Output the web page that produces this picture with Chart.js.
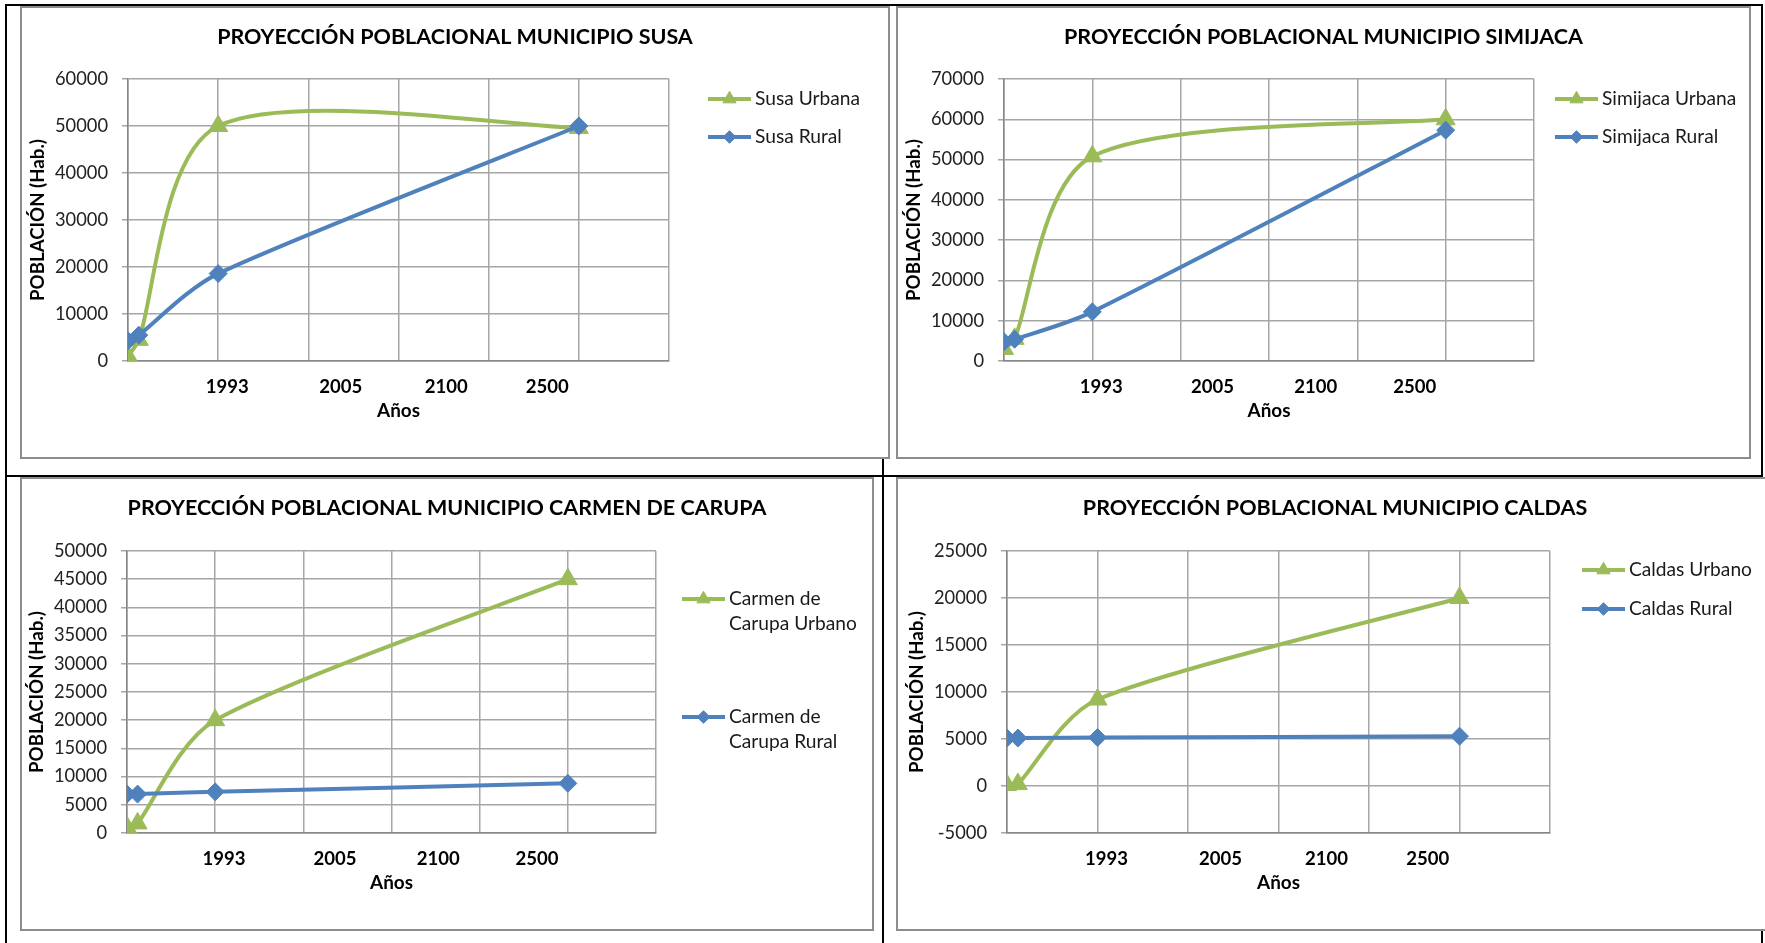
<!DOCTYPE html>
<html>
<head>
<meta charset="utf-8">
<script src="https://cdn.jsdelivr.net/npm/chart.js@4.4.1/dist/chart.umd.min.js"></script>
<style>
  html, body { margin: 0; padding: 0; background: #fff; }
  body { width: 1765px; height: 943px; position: relative; overflow: hidden; }
  .rule { position: absolute; background: #000; }
  .box { position: absolute; background: #fff; }
  .box canvas { position: absolute; left: 0; top: 0; }
  .frame { position: absolute; left: 0; top: 0; right: 0; bottom: 0; border: 2px solid #8c8c8c; pointer-events: none; }
</style>
</head>
<body>
<div class="rule" style="left:5px;top:4px;width:1758px;height:2px"></div>
<div class="rule" style="left:5px;top:4px;width:2px;height:939px"></div>
<div class="rule" style="left:1761px;top:4px;width:2px;height:939px"></div>
<div class="rule" style="left:5px;top:475px;width:1758px;height:2px"></div>
<div class="rule" style="left:882px;top:4px;width:2px;height:939px"></div>

<script>
// ── Data ──────────────────────────────────────────────────
// x position of each point, in grid columns (axis runs 0..6)
const xPositions = [0, 0.12, 1, 5];
const yearLabels = ["1993", "2005", "2100", "2500"];
const yearLabelPositions = [1.1, 2.36, 3.53, 4.65];

const susaUrbana = [1000, 4500, 50000, 49600];
const susaRural = [4300, 5500, 18600, 50000];
const simijacaUrbana = [3000, 5500, 50800, 60000];
const simijacaRural = [4800, 5400, 12200, 57300];
const carmenUrbano = [1000, 1700, 20000, 45000];
const carmenRural = [6900, 6900, 7300, 8800];
const caldasUrbano = [100, 200, 9200, 20000];
const caldasRural = [5100, 5100, 5150, 5300];

// ── Style ─────────────────────────────────────────────────
const GREEN = "#9BBB59";
const BLUE = "#4F81BD";
const GRID = "#a6a6a6";
const AXIS = "#868686";
const FONT = "Lato, 'Open Sans', sans-serif";
const X_AXIS_H = 80;

// the original uses Calibri; size Lato so the text keeps the same width
const measureCtx = document.createElement("canvas").getContext("2d");
function fitSize(text, weight, target) {
  measureCtx.font = `${weight} 100px ${FONT}`;
  return (100 * target) / measureCtx.measureText(text).width;
}
const TITLE_SIZE = fitSize("PROYECCIÓN POBLACIONAL MUNICIPIO SUSA", "bold", 476);
const Y_TITLE_SIZE = fitSize("POBLACIÓN (Hab.)", "bold", 162);
const X_TITLE_SIZE = fitSize("Años", "bold", 43);
const YEAR_SIZE = fitSize("1993", "bold", 43);
const TICK_SIZE = fitSize("60000", "normal", 53);
const LEGEND_SIZE = fitSize("Susa Urbana", "normal", 105);

// Excel-like smoothing: Catmull-Rom (1/6 of neighbour chord), shortened
// next to very short segments so the curve doesn't loop.
const excelSmooth = {
  id: "excelSmooth",
  beforeDatasetDraw(chart, args) {
    const pts = args.meta.data;
    const n = pts.length;
    for (let i = 0; i < n; i++) {
      const p = pts[i];
      const a = pts[Math.max(i - 1, 0)];
      const b = pts[Math.min(i + 1, n - 1)];
      const d0 = Math.hypot(p.x - a.x, p.y - a.y);
      const d1 = Math.hypot(b.x - p.x, b.y - p.y);
      const sum = d0 + d1 || 1;
      const fa = Math.min(1 / 6, d0 / sum / 3);
      const fb = Math.min(1 / 6, d1 / sum / 3);
      p.cp1x = p.x - fa * (b.x - a.x);
      p.cp1y = p.y - fa * (b.y - a.y);
      p.cp2x = p.x + fb * (b.x - a.x);
      p.cp2y = p.y + fb * (b.y - a.y);
    }
    args.meta.dataset._pointsUpdated = true;
  },
};

// Legend drawn the Excel way: line segment with the marker in the middle
const xlLegend = {
  id: "xlLegend",
  afterDraw(chart, args, o) {
    const { ctx } = chart;
    ctx.save();
    ctx.font = `${o.size}px ${FONT}`;
    ctx.textBaseline = "middle";
    chart.data.datasets.forEach((ds, i) => {
      const y = o.rows[i];
      ctx.strokeStyle = ds.borderColor;
      ctx.fillStyle = ds.borderColor;
      ctx.lineWidth = 4;
      ctx.beginPath();
      ctx.moveTo(o.x, y);
      ctx.lineTo(o.x + 43, y);
      ctx.stroke();
      ctx.lineWidth = 1;
      Chart.helpers.drawPoint(
        ctx,
        { pointStyle: ds.pointStyle, radius: ds.pointRadius * 0.7, borderWidth: 1 },
        o.x + 21.5,
        y,
      );
      // simple word wrap
      const lines = [];
      let cur = "";
      ds.label.split(" ").forEach((w) => {
        const t = cur ? cur + " " + w : w;
        if (cur && ctx.measureText(t).width > o.maxWidth) {
          lines.push(cur);
          cur = w;
        } else cur = t;
      });
      lines.push(cur);
      ctx.fillStyle = "#1a1a1a";
      lines.forEach((t, k) => ctx.fillText(t, o.x + 47, y + k * 25));
    });
    ctx.restore();
  },
};

function makeChart(c) {
  const [bx, by, W, H] = c.box;
  const box = document.createElement("div");
  box.className = "box";
  Object.assign(box.style, { left: bx + "px", top: by + "px", width: W + "px", height: H + "px" });
  const canvas = document.createElement("canvas");
  canvas.width = W;
  canvas.height = H;
  box.appendChild(canvas);
  const frame = document.createElement("div");
  frame.className = "frame";
  box.appendChild(frame);
  document.body.appendChild(box);

  const L = c.plot[0] - bx, T = c.plot[1] - by, R = c.plot[2] - bx, B = c.plot[3] - by;
  const titleCy = c.titleY - by;
  const yTitleCx = c.plot[0] - 90 - bx;
  const titleLH = TITLE_SIZE * 1.2;
  const font = (size, weight) => ({ family: FONT, size, weight, lineHeight: 1.2 });

  const xTicks = [0, 1, 2, 3, 4, 5, 6, ...yearLabelPositions].sort((a, b) => a - b);

  new Chart(canvas, {
    type: "line",
    data: {
      datasets: [
        {
          label: c.names[0],
          data: xPositions.map((x, i) => ({ x, y: c.urban[i] })),
          borderColor: GREEN,
          backgroundColor: GREEN,
          pointStyle: "triangle",
          pointRadius: 11,
          order: 1,
        },
        {
          label: c.names[1],
          data: xPositions.map((x, i) => ({ x, y: c.rural[i] })),
          borderColor: BLUE,
          backgroundColor: BLUE,
          pointStyle: "rectRot",
          pointRadius: 9,
          order: 0,
        },
      ],
    },
    options: {
      responsive: false,
      animation: false,
      events: [],
      layout: { padding: { left: 0, top: 0, right: 0, bottom: H - B - X_AXIS_H } },
      elements: {
        line: { borderWidth: 4, tension: 0.3, fill: false },
        point: { borderWidth: 1 },
      },
      plugins: {
        legend: { display: false },
        tooltip: { enabled: false },
        title: {
          display: true,
          text: c.title,
          color: "#000",
          font: font(TITLE_SIZE, "bold"),
          padding: { top: titleCy - titleLH / 2, bottom: T - titleCy - titleLH / 2 },
        },
        xlLegend: {
          x: c.legend.x - bx,
          rows: c.legend.rows.map((r) => r - by),
          size: LEGEND_SIZE,
          maxWidth: c.legend.maxWidth || 1e9,
        },
      },
      scales: {
        x: {
          type: "linear",
          min: 0,
          max: 6,
          afterBuildTicks: (s) => {
            s.ticks = xTicks.map((v) => ({ value: v }));
          },
          afterFit: (s) => {
            s.height = X_AXIS_H;
          },
          grid: {
            color: (ctx) => (ctx.tick && Number.isInteger(ctx.tick.value) ? GRID : "rgba(0,0,0,0)"),
            lineWidth: 1.5,
            drawTicks: false,
          },
          border: { color: AXIS, width: 1.5 },
          ticks: {
            autoSkip: false,
            maxRotation: 0,
            padding: 26 - YEAR_SIZE * 0.6,
            color: "#000",
            font: font(YEAR_SIZE, "bold"),
            callback: (v) => {
              const k = yearLabelPositions.indexOf(v);
              return k < 0 ? "" : yearLabels[k];
            },
          },
          title: {
            display: true,
            text: "Años",
            color: "#000",
            font: font(X_TITLE_SIZE, "bold"),
            padding: { top: 0, bottom: 30 - X_TITLE_SIZE * 0.6 },
          },
        },
        y: {
          min: c.yMin,
          max: c.yMax,
          afterFit: (s) => {
            s.width = L;
          },
          grid: { color: GRID, lineWidth: 1.5, tickLength: 6 },
          border: { color: AXIS, width: 1.5 },
          ticks: {
            stepSize: c.yStep,
            padding: 14,
            color: "#222",
            font: font(TICK_SIZE, "normal"),
            callback: (v) => String(v),
          },
          title: {
            display: true,
            text: "POBLACIÓN (Hab.)",
            color: "#000",
            font: font(Y_TITLE_SIZE, "bold"),
            padding: { top: yTitleCx - Y_TITLE_SIZE * 0.6, bottom: 0 },
          },
        },
        // empty right-hand band that holds the legend, so the title centres on the whole box
        legendBand: {
          type: "linear",
          position: "right",
          grid: { display: false },
          border: { display: false },
          ticks: { display: false },
          afterFit: (s) => {
            s.width = W - R;
          },
        },
      },
    },
    plugins: [excelSmooth, xlLegend],
  });
}

makeChart({
  title: "PROYECCIÓN POBLACIONAL MUNICIPIO SUSA",
  names: ["Susa Urbana", "Susa Rural"],
  urban: susaUrbana,
  rural: susaRural,
  yMin: 0, yMax: 60000, yStep: 10000,
  box: [20, 6, 870, 453],
  plot: [128, 79, 669, 361],
  titleY: 37,
  legend: { x: 708, rows: [99, 137] },
});

makeChart({
  title: "PROYECCIÓN POBLACIONAL MUNICIPIO SIMIJACA",
  names: ["Simijaca Urbana", "Simijaca Rural"],
  urban: simijacaUrbana,
  rural: simijacaRural,
  yMin: 0, yMax: 70000, yStep: 10000,
  box: [896, 6, 855, 453],
  plot: [1004, 79, 1534, 361],
  titleY: 37,
  legend: { x: 1555, rows: [99, 137] },
});

makeChart({
  title: "PROYECCIÓN POBLACIONAL MUNICIPIO CARMEN DE CARUPA",
  names: ["Carmen de Carupa Urbano", "Carmen de Carupa Rural"],
  urban: carmenUrbano,
  rural: carmenRural,
  yMin: 0, yMax: 50000, yStep: 5000,
  box: [20, 477, 854, 454],
  plot: [127, 551, 656, 833],
  titleY: 508,
  legend: { x: 682, rows: [599, 717], maxWidth: 140 },
});

makeChart({
  title: "PROYECCIÓN POBLACIONAL MUNICIPIO CALDAS",
  names: ["Caldas Urbano", "Caldas Rural"],
  urban: caldasUrbano,
  rural: caldasRural,
  yMin: -5000, yMax: 25000, yStep: 5000,
  box: [896, 477, 878, 454],
  plot: [1007, 551, 1550, 833],
  titleY: 508,
  legend: { x: 1582, rows: [570, 609] },
});
</script>
</body>
</html>
